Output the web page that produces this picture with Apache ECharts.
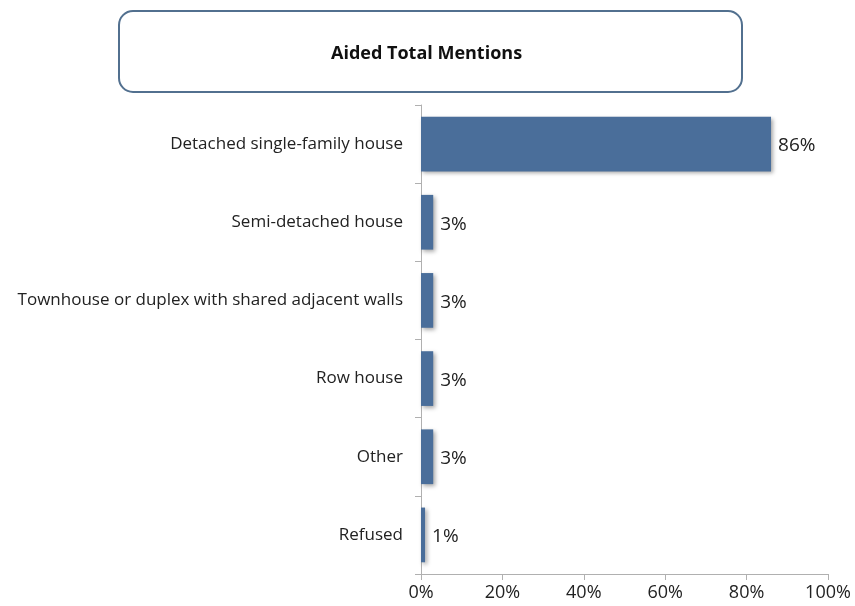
<!DOCTYPE html>
<html>
<head>
<meta charset="utf-8">
<script src="https://cdn.jsdelivr.net/npm/echarts@6/dist/echarts.min.js"></script>
<style>
  html, body { margin: 0; padding: 0; background: #ffffff; }
  #chart { width: 855px; height: 606px; }
</style>
</head>
<body>
<div id="chart"></div>
<script>
// Housing type mentions (percent of respondents)
const categories = [
  'Detached single-family house',
  'Semi-detached house',
  'Townhouse or duplex with shared adjacent walls',
  'Row house',
  'Other',
  'Refused'
];
const values = [86, 3, 3, 3, 3, 1];
const xTicks = [0, 20, 40, 60, 80, 100];
const titleText = 'Aided Total Mentions';

const font = '"Open Sans", "Liberation Sans", sans-serif';
const chart = echarts.init(document.getElementById('chart'), null, { renderer: 'canvas' });

chart.setOption({
  backgroundColor: '#ffffff',
  animation: false,
  graphic: [
    {
      type: 'rect',
      left: 118, top: 10,
      shape: { width: 623, height: 81, r: 14 },
      style: { fill: '#ffffff', stroke: '#52708f', lineWidth: 2 }
    },
    {
      type: 'text',
      left: 331, top: 45,
      style: {
        text: titleText,
        font: 'bold 18px ' + font,
        fill: '#111111'
      }
    }
  ],
  grid: { left: 421, right: 27, top: 105, bottom: 32, containLabel: false },
  xAxis: {
    type: 'value',
    min: xTicks[0],
    max: xTicks[xTicks.length - 1],
    interval: 20,
    axisLine: { show: true, lineStyle: { color: '#b0b0b0', width: 1 } },
    axisTick: { show: true, length: 6, lineStyle: { color: '#b0b0b0' } },
    splitLine: { show: false },
    axisLabel: {
      formatter: v => v + '%',
      color: '#222222',
      fontSize: 18,
      fontFamily: font,
      margin: 10
    }
  },
  yAxis: {
    type: 'category',
    data: categories,
    inverse: true,
    axisLine: { show: true, lineStyle: { color: '#b0b0b0', width: 1 } },
    axisTick: { show: true, length: 6, alignWithLabel: false, lineStyle: { color: '#b0b0b0' } },
    axisLabel: {
      color: '#222222',
      fontSize: 17,
      fontFamily: font,
      margin: 18
    }
  },
  series: [{
    type: 'bar',
    data: values,
    barCategoryGap: '30%',
    itemStyle: {
      color: '#4a6e9a',
      shadowColor: 'rgba(0,0,0,0.35)',
      shadowBlur: 4,
      shadowOffsetX: 2,
      shadowOffsetY: 2
    },
    label: {
      show: true,
      position: 'right',
      distance: 7,
      offset: [0, 2],
      formatter: p => p.value + '%',
      color: '#222222',
      fontSize: 19,
      fontFamily: font
    }
  }]
});
</script>
</body>
</html>
